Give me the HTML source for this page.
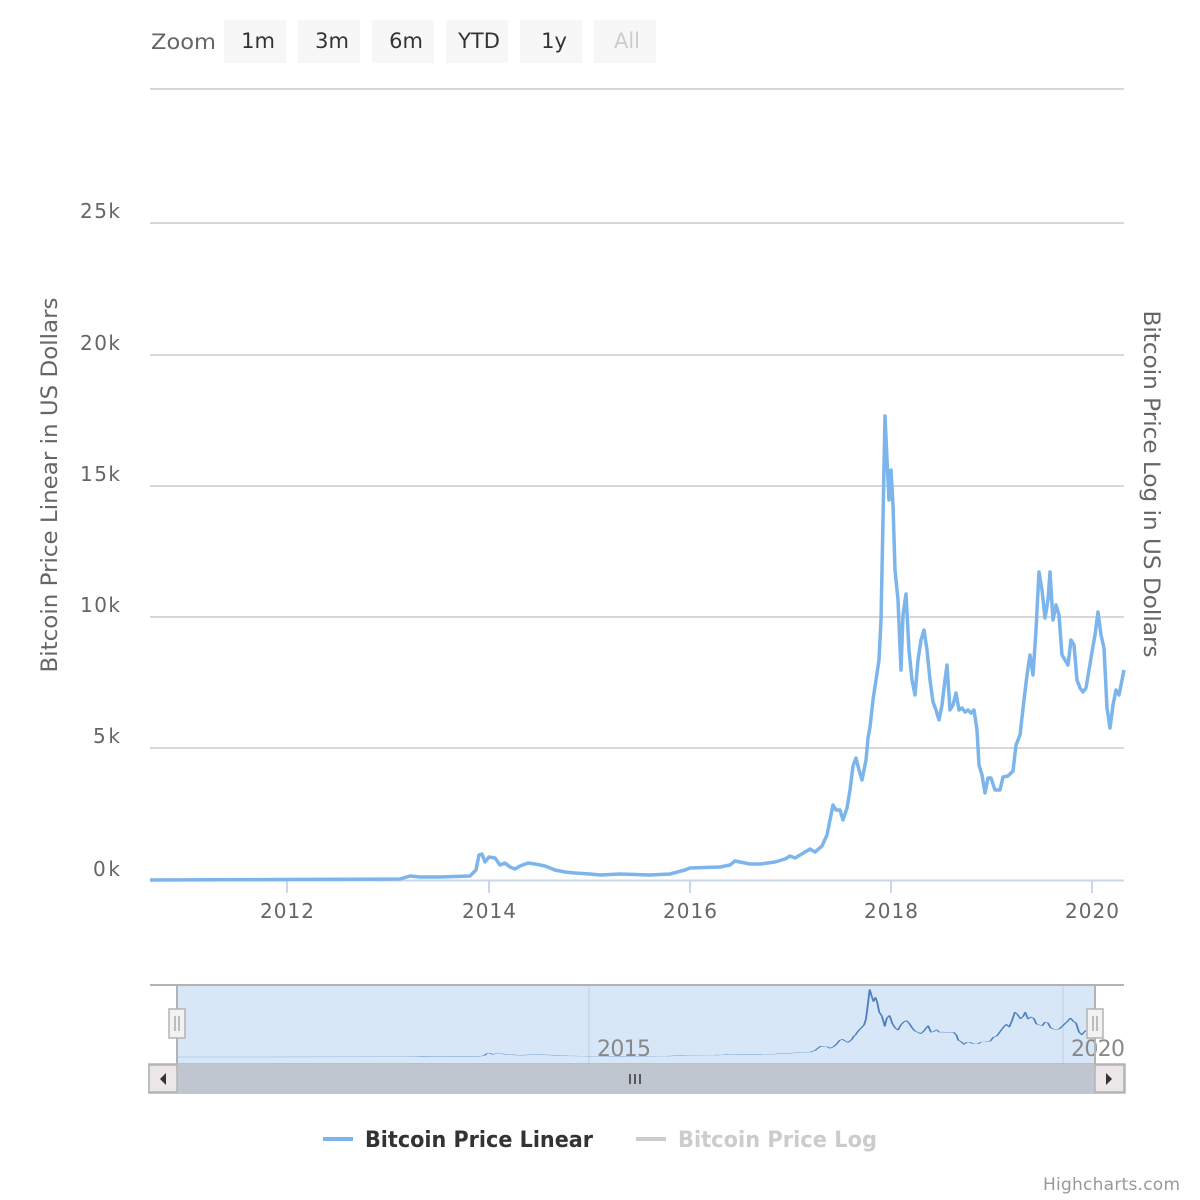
<!DOCTYPE html>
<html><head><meta charset="utf-8"><style>
body{margin:0;background:#fff;}
svg{display:block;font-family:"DejaVu Sans","Liberation Sans",sans-serif;}
</style></head><body>
<svg width="1200" height="1200" viewBox="0 0 1200 1200" xmlns="http://www.w3.org/2000/svg">
<defs>
<polyline id="s" fill="none" points="150,880 400,879 410,876 420,877 440,877 470,876 476,870 479,855 482,854 485,862 489,857 495,858 500,865 505,863 510,867 515,869 520,866 528,863 535,864 545,866 555,870 565,872 575,873 590,874 600,875 620,874 650,875 670,874 685,870 690,868 720,867 730,865 735,861 740,862 750,864 760,864 775,862 785,859 790,856 795,858 805,852 810,849 815,852 822,846 827,835 830,820 833,805 836,810 840,810 843,820 847,808 850,790 853,766 856,758 859,770 862,780 866,760 868,738 870,727 873,700 876,680 879,660 881,620 883,520 885,416 887,460 889,500 891,470 893,505 895,570 898,600 901,670 903,615 906,594 909,650 912,680 915,695 918,660 921,640 924,630 927,650 930,680 933,702 936,710 939,720 942,705 945,680 947,665 950,710 953,705 956,693 959,710 962,708 965,712 968,710 971,713 974,710 977,730 979,765 982,775 985,793 988,778 991,778 995,790 1000,790 1003,777 1008,776 1013,771 1016,745 1020,735 1024,700 1027,675 1030,655 1033,675 1036,630 1039,572 1042,590 1045,618 1048,600 1050,572 1053,620 1056,605 1059,615 1062,655 1065,660 1068,665 1071,640 1074,645 1077,680 1080,688 1083,692 1086,688 1089,670 1092,652 1095,635 1098,612 1101,635 1104,648 1107,708 1110,728 1113,705 1116,690 1119,695 1122,680 1124,670"/>
<clipPath id="nc"><rect x="177" y="980" width="909" height="84"/></clipPath>
</defs>
<text x="151" y="49" font-size="21" fill="#666" textLength="65" lengthAdjust="spacingAndGlyphs">Zoom</text>
<g font-size="21" text-anchor="middle">
<rect x="224" y="20" width="62" height="43" fill="#f7f7f7"/><text x="258" y="48" fill="#333">1m</text>
<rect x="298" y="20" width="62" height="43" fill="#f7f7f7"/><text x="332" y="48" fill="#333">3m</text>
<rect x="372" y="20" width="62" height="43" fill="#f7f7f7"/><text x="406" y="48" fill="#333">6m</text>
<rect x="446" y="20" width="62" height="43" fill="#f7f7f7"/><text x="479" y="48" fill="#333">YTD</text>
<rect x="520" y="20" width="62" height="43" fill="#f7f7f7"/><text x="554" y="48" fill="#333">1y</text>
<rect x="594" y="20" width="62" height="43" fill="#f7f7f7"/><text x="627" y="48" fill="#ccc">All</text>
</g>
<g stroke="#d8d8d8" stroke-width="2">
<line x1="150" x2="1124" y1="89" y2="89"/>
<line x1="150" x2="1124" y1="223" y2="223"/>
<line x1="150" x2="1124" y1="355" y2="355"/>
<line x1="150" x2="1124" y1="486" y2="486"/>
<line x1="150" x2="1124" y1="617" y2="617"/>
<line x1="150" x2="1124" y1="748" y2="748"/>
</g>
<line x1="150" x2="1124" y1="880.5" y2="880.5" stroke="#ccd6eb" stroke-width="2"/>
<g stroke="#ccd6eb" stroke-width="2">
<line x1="287" x2="287" y1="881" y2="893"/><line x1="489" x2="489" y1="881" y2="893"/><line x1="690" x2="690" y1="881" y2="893"/><line x1="891" x2="891" y1="881" y2="893"/><line x1="1092" x2="1092" y1="881" y2="893"/>
</g>
<g font-size="20" fill="#666" text-anchor="end">
<text x="120" y="218" textLength="40">25k</text><text x="120" y="350" textLength="40">20k</text><text x="120" y="481" textLength="40">15k</text><text x="120" y="612" textLength="40">10k</text><text x="120" y="743" textLength="27">5k</text><text x="120" y="876" textLength="27">0k</text>
</g>
<g font-size="20" fill="#666" text-anchor="middle">
<text x="287" y="918" textLength="54">2012</text><text x="489" y="918" textLength="54">2014</text><text x="690" y="918" textLength="54">2016</text><text x="891" y="918" textLength="54">2018</text><text x="1092" y="918" textLength="54">2020</text>
</g>
<text transform="translate(57,485) rotate(-90)" font-size="22" fill="#666" text-anchor="middle" textLength="375" lengthAdjust="spacingAndGlyphs">Bitcoin Price Linear in US Dollars</text>
<text transform="translate(1144,484) rotate(90)" font-size="22" fill="#666" text-anchor="middle" textLength="347" lengthAdjust="spacingAndGlyphs">Bitcoin Price Log in US Dollars</text>
<use href="#s" stroke="#7cb5ec" stroke-width="3.5" stroke-linejoin="round"/>
<rect x="177" y="985" width="918" height="79" fill="#d8e7f8"/>
<line x1="589" x2="589" y1="985" y2="1064" stroke="#c8d6e8" stroke-width="1.5"/>
<line x1="1063" x2="1063" y1="985" y2="1064" stroke="#c8d6e8" stroke-width="1.5"/>
<g clip-path="url(#nc)"><g transform="matrix(0.9425,0,0,0.1457,35.6,928.8)">
<use href="#s" stroke="#4a7fc1" stroke-width="2" vector-effect="non-scaling-stroke" stroke-linejoin="round"/>
</g></g>
<text x="624" y="1056" font-size="22" fill="#888" text-anchor="middle" textLength="54">2015</text>
<text x="1098" y="1056" font-size="22" fill="#888" text-anchor="middle" textLength="54">2020</text>
<line x1="150" x2="1124" y1="985" y2="985" stroke="#b3b3b3" stroke-width="2"/>
<line x1="177" x2="177" y1="985" y2="1064" stroke="#b3b3b3" stroke-width="2"/>
<line x1="1095" x2="1095" y1="985" y2="1064" stroke="#b3b3b3" stroke-width="2"/>
<rect x="169" y="1009" width="16" height="29" fill="#f2f2f2" stroke="#b3b3b3" stroke-width="1.5"/>
<line x1="175" x2="175" y1="1016" y2="1031" stroke="#999" stroke-width="1.2"/><line x1="179" x2="179" y1="1016" y2="1031" stroke="#999" stroke-width="1.2"/>
<rect x="1087" y="1009" width="16" height="29" fill="#f2f2f2" stroke="#b3b3b3" stroke-width="1.5"/>
<line x1="1093" x2="1093" y1="1016" y2="1031" stroke="#999" stroke-width="1.2"/><line x1="1097" x2="1097" y1="1016" y2="1031" stroke="#999" stroke-width="1.2"/>
<rect x="149" y="1064" width="976" height="29" fill="#f2f2f2" stroke="#b3b3b3" stroke-width="1.5"/>
<rect x="177" y="1064" width="918" height="29" fill="#bfc6cf"/>
<rect x="149" y="1065" width="28" height="27" fill="#ebe7e8" stroke="#b3b3b3" stroke-width="1.5"/>
<rect x="1095" y="1065" width="29" height="27" fill="#ebe7e8" stroke="#b3b3b3" stroke-width="1.5"/>
<polygon points="166,1073 166,1085 160,1079" fill="#333"/>
<polygon points="1106,1073 1106,1085 1112,1079" fill="#333"/>
<g stroke="#333" stroke-width="1.5"><line x1="630" x2="630" y1="1074" y2="1084"/><line x1="635" x2="635" y1="1074" y2="1084"/><line x1="640" x2="640" y1="1074" y2="1084"/></g>
<line x1="323" x2="353" y1="1139" y2="1139" stroke="#7cb5ec" stroke-width="4"/>
<text x="365" y="1147" font-size="22" font-weight="bold" fill="#333" textLength="228" lengthAdjust="spacingAndGlyphs">Bitcoin Price Linear</text>
<line x1="636" x2="666" y1="1139" y2="1139" stroke="#ccc" stroke-width="4"/>
<text x="678" y="1147" font-size="22" font-weight="bold" fill="#ccc" textLength="199" lengthAdjust="spacingAndGlyphs">Bitcoin Price Log</text>
<text x="1180" y="1190" font-size="17" fill="#999" text-anchor="end" textLength="137">Highcharts.com</text>
</svg>
</body></html>
